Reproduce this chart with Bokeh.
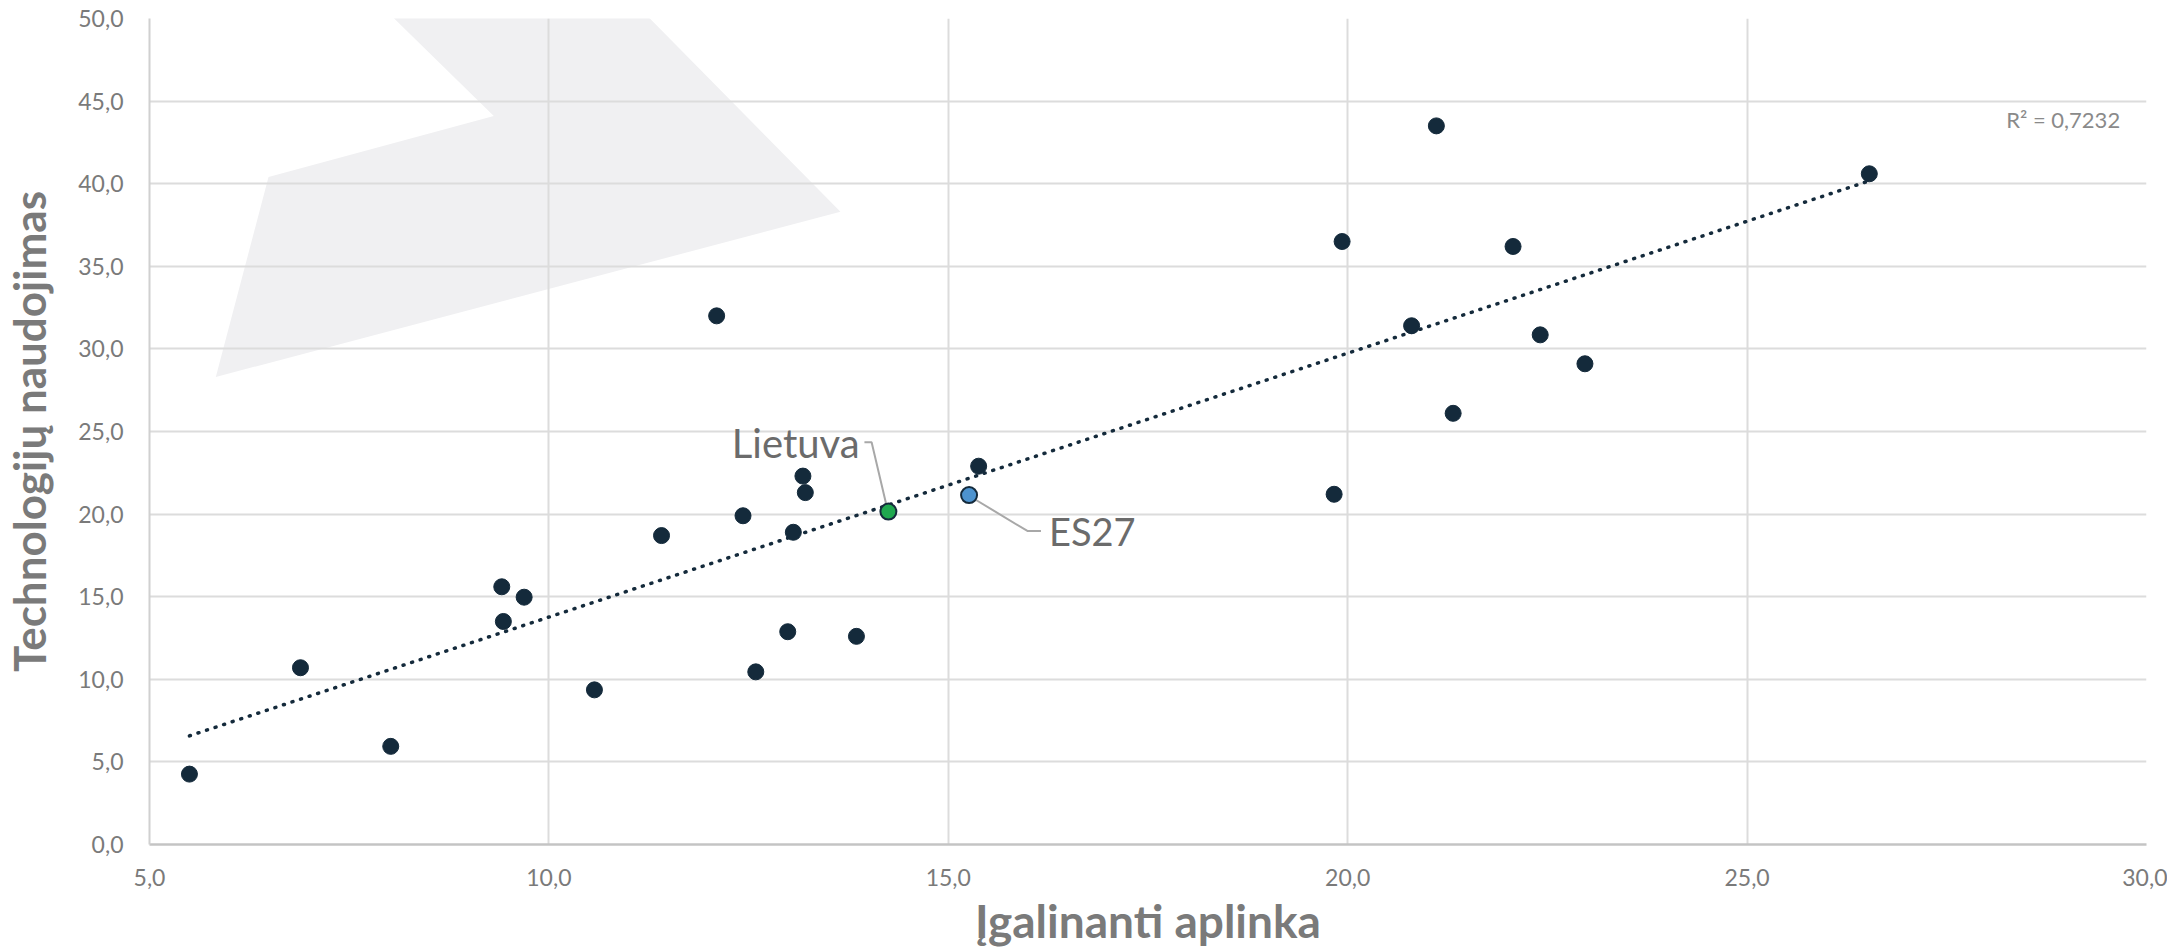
import numpy as np
from bokeh.plotting import figure
from bokeh.models import FixedTicker, Range1d, Label
from bokeh.embed import file_html
from bokeh.resources import INLINE

# ---- data ----
x_ticks = [5, 10, 15, 20, 25, 30]
x_tick_labels = ["5,0", "10,0", "15,0", "20,0", "25,0", "30,0"]
y_ticks = [0, 5, 10, 15, 20, 25, 30, 35, 40, 45, 50]
y_tick_labels = ["0,0", "5,0", "10,0", "15,0", "20,0", "25,0", "30,0", "35,0", "40,0", "45,0", "50,0"]

country_x = [5.50, 6.89, 8.02, 9.41, 9.43, 9.69, 10.57, 11.41, 12.10, 12.43, 12.59, 12.99, 13.06,
             13.18, 13.21, 13.85, 15.38, 19.83, 19.93, 20.80, 21.11, 21.32, 22.07, 22.41, 22.97, 26.53]
country_y = [4.26, 10.7, 5.94, 15.6, 13.5, 14.97, 9.36, 18.7, 32.0, 19.9, 10.45, 12.88, 18.9,
             22.3, 21.3, 12.6, 22.9, 21.2, 36.5, 31.4, 43.5, 26.1, 36.2, 30.85, 29.1, 40.6]
lt_name = "Lietuva"
lt_x, lt_y = 14.25, 20.15
eu_name = "ES27"
eu_x, eu_y = 15.26, 21.15
r2_text = "R\u00b2 = 0,7232"

# decorative watermark shape (background)
decor_x = [7.83, 11.04, 13.65, 5.83, 6.49, 9.31]
decor_y = [51.1, 51.1, 38.3, 28.3, 40.4, 44.1]

FONT = "Lato"
DARK = "#142a3b"
GRID = "#dcdcdc"

p = figure(width=2167, height=950, x_range=Range1d(5, 30), y_range=Range1d(0, 50),
           output_backend="svg", toolbar_location=None,
           min_border_left=148, min_border_right=21, min_border_top=18, min_border_bottom=103)
p.outline_line_color = None
p.background_fill_color = "white"
p.border_fill_color = "white"

# watermark
p.patch(decor_x, decor_y, fill_color="#f0f0f2", line_color=None, level="image")

# axes
for ax, ticks, labels in ((p.xaxis[0], x_ticks, x_tick_labels), (p.yaxis[0], y_ticks, y_tick_labels)):
    ax.ticker = FixedTicker(ticks=ticks)
    ax.major_label_overrides = {t: l for t, l in zip(ticks, labels)}
    ax.major_tick_line_color = None
    ax.minor_tick_line_color = None
    ax.major_label_text_font = FONT
    ax.major_label_text_font_size = "23px"
    ax.major_label_text_color = "#7a7a7a"
    ax.axis_label_text_font = FONT
    ax.axis_label_text_font_style = "bold"
    ax.axis_label_text_color = "#7a7a7a"

p.xaxis.major_label_standoff = 18
p.xaxis.axis_label = "\u012egalinanti aplinka"
p.xaxis.axis_label_text_font_size = "46px"
p.xaxis.axis_label_standoff = 4
p.xaxis.axis_line_color = "#c4c4c4"
p.xaxis.axis_line_width = 2.5

p.yaxis.major_label_standoff = 20
p.yaxis.axis_label = "Technologij\u0173 naudojimas"
p.yaxis.axis_label_text_font_size = "44px"
p.yaxis.axis_label_standoff = 20
p.yaxis.axis_line_color = "#d0d0d0"
p.yaxis.axis_line_width = 2

p.xgrid.ticker = FixedTicker(ticks=x_ticks)
p.ygrid.ticker = FixedTicker(ticks=y_ticks)
p.grid.grid_line_color = GRID
p.grid.grid_line_width = 2

# trend line (least squares on all points)
all_x = np.array(country_x + [lt_x, eu_x])
all_y = np.array(country_y + [lt_y, eu_y])
k, b = np.polyfit(all_x, all_y, 1)
tx = np.array([all_x.min(), all_x.max()])
p.line(tx, k * tx + b, line_color=DARK, line_width=3.5, line_dash="1 8", line_cap="round")

# leader lines
p.line([lt_x - 0.30, lt_x - 0.21, lt_x - 0.02], [lt_y + 4.2, lt_y + 4.2, lt_y + 0.3],
       line_color="#a8a8a8", line_width=2)
p.line([eu_x + 0.02, eu_x + 0.73, eu_x + 0.90], [eu_y - 0.1, eu_y - 2.17, eu_y - 2.17],
       line_color="#a8a8a8", line_width=2)

# points
p.scatter(country_x, country_y, size=16, fill_color=DARK, line_color=DARK)
p.scatter([lt_x], [lt_y], size=16, fill_color="#1fa84f", line_color=DARK, line_width=2)
p.scatter([eu_x], [eu_y], size=16, fill_color="#4d93cf", line_color=DARK, line_width=2)

p.add_layout(Label(x=lt_x - 0.36, y=lt_y + 4.15, text=lt_name, text_align="right",
                   text_baseline="middle", text_font=FONT, text_font_size="40px",
                   text_color="#6b6b6b"))
p.add_layout(Label(x=eu_x + 1.0, y=eu_y - 2.2, text=eu_name, text_align="left",
                   text_baseline="middle", text_font=FONT, text_font_size="38px",
                   text_color="#6b6b6b"))
p.add_layout(Label(x=29.67, y=43.9, text=r2_text, text_align="right",
                   text_baseline="middle", text_font=FONT, text_font_size="22px",
                   text_color="#8a8a8a"))

open("out.html", "w").write(file_html(p, INLINE))
